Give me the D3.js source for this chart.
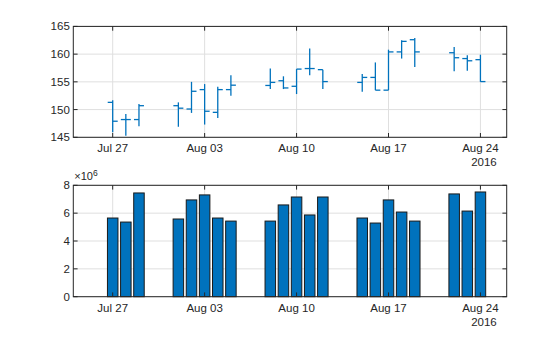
<!DOCTYPE html>
<html><head><meta charset="utf-8">
<script src="https://cdn.jsdelivr.net/npm/d3@7"></script>
<style>body{margin:0;background:#fff}svg{display:block}text{font-family:"Liberation Sans",Arial,sans-serif;fill:#262626}</style>
</head><body><svg id="c" width="560" height="337"></svg>
<script>
const dates = ["2016-07-27","2016-07-28","2016-07-29","2016-08-01","2016-08-02","2016-08-03","2016-08-04","2016-08-05","2016-08-08","2016-08-09","2016-08-10","2016-08-11","2016-08-12","2016-08-15","2016-08-16","2016-08-17","2016-08-18","2016-08-19","2016-08-22","2016-08-23","2016-08-24"];
const openP  = [151.3,148.2,148.2,150.7,150.1,153.6,149.5,153.6,154.35,155.2,154.2,157.4,157.2,154.9,155.8,153.5,160.4,162.6,160.25,159.2,159.0];
const highP  = [151.7,149.2,151.0,151.3,155.0,154.6,154.1,156.2,157.4,156.0,157.3,161.0,157.2,156.4,158.5,160.8,162.5,162.9,161.3,159.8,159.9];
const lowP   = [145.9,145.3,147.0,146.9,149.4,147.3,148.5,152.5,153.7,153.7,152.8,156.2,153.7,153.2,153.5,153.5,159.2,157.7,156.9,157.0,155.0];
const closeP = [147.9,148.2,150.7,150.25,153.3,149.7,153.6,154.4,154.9,153.9,157.3,157.4,155.05,155.8,153.5,160.4,162.3,160.4,159.35,158.8,155.05];
const volume = [5.65,5.36,7.45,5.58,6.95,7.31,5.65,5.43,5.43,6.59,7.16,5.87,7.16,5.65,5.29,6.95,6.08,5.43,7.38,6.15,7.52];
const xTicks = ["2016-07-27","2016-08-03","2016-08-10","2016-08-17","2016-08-24"];
const xTickLabels = ["Jul 27","Aug 03","Aug 10","Aug 17","Aug 24"];
const yearLabel = "2016";
const priceTicks = [145,150,155,160,165];
const volTicks = [0,2,4,6,8];

const svg = d3.select("#c");
const P = d => new Date(d + "T00:00:00Z");
const L = 73.3, R = 506.7;
const x = d3.scaleUtc().domain([P("2016-07-24"), P("2016-08-26")]).range([L, R]);
const yP = d3.scaleLinear().domain([145,165]).range([137.3, 26.4]);
const yV = d3.scaleLinear().domain([0,8]).range([296.7, 185.3]);
const blue = "#0072BD", axc = "#262626", gridc = "#dfdfdf";
const dayW = x(P("2016-07-28")) - x(P("2016-07-27"));
const tickLen = 4.3;

function frame(y, ticks, top, bottom) {
  const g = svg.append("g");
  ticks.forEach(t => g.append("line").attr("x1", L).attr("x2", R).attr("y1", y(t)).attr("y2", y(t)).attr("stroke", gridc).attr("stroke-width", 1));
  xTicks.forEach(t => g.append("line").attr("x1", x(P(t))).attr("x2", x(P(t))).attr("y1", top).attr("y2", bottom).attr("stroke", gridc).attr("stroke-width", 1));
  return g;
}
function box(y, ticks, top, bottom) {
  const g = svg.append("g");
  g.append("rect").attr("x", L).attr("y", top).attr("width", R - L).attr("height", bottom - top).attr("fill", "none").attr("stroke", axc).attr("stroke-width", 1);
  xTicks.forEach((t, i) => {
    const xx = x(P(t));
    g.append("line").attr("x1", xx).attr("x2", xx).attr("y1", bottom).attr("y2", bottom - tickLen).attr("stroke", axc);
    g.append("line").attr("x1", xx).attr("x2", xx).attr("y1", top).attr("y2", top + tickLen).attr("stroke", axc);
    g.append("text").attr("x", xx).attr("y", bottom + 15).attr("text-anchor", "middle").attr("font-size", "11.5px").text(xTickLabels[i]);
  });
  g.append("text").attr("x", x(P(xTicks[xTicks.length - 1])) + 3.5).attr("y", bottom + 29).attr("text-anchor", "middle").attr("font-size", "11.5px").text(yearLabel);
  ticks.forEach(t => {
    const yy = y(t);
    g.append("line").attr("x1", L).attr("x2", L + tickLen).attr("y1", yy).attr("y2", yy).attr("stroke", axc);
    g.append("line").attr("x1", R).attr("x2", R - tickLen).attr("y1", yy).attr("y2", yy).attr("stroke", axc);
    g.append("text").attr("x", L - 3.5).attr("y", yy + 4).attr("text-anchor", "end").attr("font-size", "11.5px").text(t);
  });
}

// price panel
frame(yP, priceTicks, yP(165), yP(145));
const pg = svg.append("g").attr("stroke", blue).attr("stroke-width", 1.3).attr("fill", "none");
dates.forEach((d, i) => {
  const xx = x(P(d));
  pg.append("line").attr("x1", xx).attr("x2", xx).attr("y1", yP(highP[i])).attr("y2", yP(lowP[i]));
  pg.append("line").attr("x1", xx - 5).attr("x2", xx).attr("y1", yP(openP[i])).attr("y2", yP(openP[i]));
  pg.append("line").attr("x1", xx).attr("x2", xx + 5).attr("y1", yP(closeP[i])).attr("y2", yP(closeP[i]));
});
box(yP, priceTicks, yP(165), yP(145));

// volume panel
frame(yV, volTicks, yV(8), yV(0));
const bw = dayW * 0.8;
svg.append("g").selectAll("rect").data(dates).join("rect")
  .attr("x", d => x(P(d)) - bw / 2).attr("width", bw)
  .attr("y", (d, i) => yV(volume[i])).attr("height", (d, i) => yV(0) - yV(volume[i]))
  .attr("fill", blue).attr("stroke", "#1a1a1a").attr("stroke-width", 1);
box(yV, volTicks, yV(8), yV(0));
const ex = svg.append("text").attr("x", L + 1).attr("y", yV(8) - 5).attr("font-size", "11px");
ex.append("tspan").text("×10");
ex.append("tspan").attr("dy", -4.5).attr("font-size", "8.5px").text("6");
</script></body></html>
